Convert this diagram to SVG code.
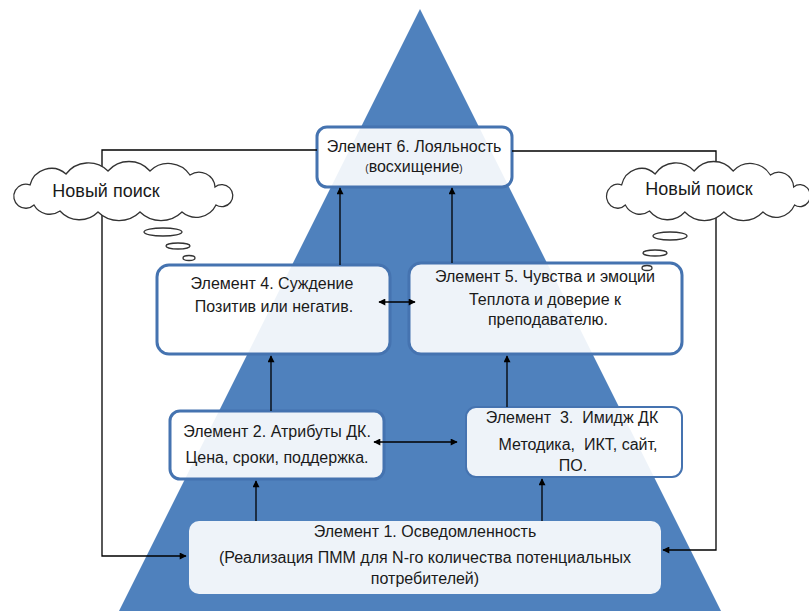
<svg xmlns="http://www.w3.org/2000/svg" xmlns:xlink="http://www.w3.org/1999/xlink" width="809" height="611" viewBox="0 0 809 611">
<style>
  .box{fill:#ffffff;fill-opacity:0.9;stroke:#4573b0;stroke-width:3}
  .t{font-family:"Liberation Sans",Arial,sans-serif;font-size:16px;fill:#1a1a1a;text-anchor:middle}
  .s{font-size:10px}
  .cl{font-family:"Liberation Sans",Arial,sans-serif;font-size:18px;fill:#1a1a1a;text-anchor:middle}
  .ln{fill:none;stroke:#000;stroke-width:1.3}
  .cloud{fill:#fff;stroke:#333;stroke-width:1.3}
  .bub{fill:#fff;stroke:#333;stroke-width:1.3}
</style>
<defs>
  <marker id="ah" viewBox="0 0 10 10" refX="9" refY="5" markerWidth="8" markerHeight="7" orient="auto-start-reverse" markerUnits="userSpaceOnUse">
    <path d="M0,0 L10,5 L0,10 z" fill="#000"/>
  </marker>
  <path id="cloudShape" d="M24,42 A12,12 0 1 1 20,22 A22,22 0 0 1 56,11 A28,28 0 0 1 98,8 A28,28 0 0 1 140,8 A26,26 0 0 1 180,12 A16,16 0 0 1 205,24 A11,11 0 1 1 206,42 A22,22 0 0 1 172,49 A30,30 0 0 1 130,49 A30,30 0 0 1 88,49 A26,26 0 0 1 50,48 A18,18 0 0 1 24,42 Z"/>
</defs>
<rect width="809" height="611" fill="#fff"/>
<polygon id="pyramid" points="420,9 117,615 723,615" fill="#4f81bd"/>

<g id="element6">
  <rect class="box" x="317" y="127" width="195" height="60" rx="10"/>
  <text class="t" x="414" y="152">Элемент 6. Лояльность</text>
  <text class="t" x="414" y="172"><tspan class="s">(</tspan>восхищение<tspan class="s">)</tspan></text>
</g>
<g id="element4">
  <rect class="box" x="157" y="265" width="233" height="89" rx="12"/>
  <text class="t" x="272" y="289">Элемент 4. Суждение</text>
  <text class="t" x="274" y="312">Позитив или негатив.</text>
</g>
<g id="element5">
  <rect class="box" x="409" y="263" width="273" height="91" rx="12"/>
  <text class="t" x="545" y="282">Элемент 5. Чувства и эмоции</text>
  <text class="t" x="545" y="305">Теплота и доверие к</text>
  <text class="t" x="548" y="325">преподавателю.</text>
</g>
<g id="element2">
  <rect class="box" x="170" y="411" width="214" height="68" rx="10"/>
  <text class="t" x="277" y="437">Элемент 2. Атрибуты ДК.</text>
  <text class="t" x="277" y="463">Цена, сроки, поддержка.</text>
</g>
<g id="element3">
  <rect class="box" x="466" y="407" width="216" height="70" rx="10" style="stroke-width:2"/>
  <text class="t" x="572" y="423" xml:space="preserve">Элемент  3.  Имидж ДК</text>
  <text class="t" x="578" y="450" xml:space="preserve">Методика,  ИКТ, сайт,</text>
  <text class="t" x="573" y="471">ПО.</text>
</g>
<g id="element1">
  <rect class="box" x="189" y="521" width="472" height="73" rx="10" style="stroke:none"/>
  <text class="t" x="425" y="537">Элемент 1. Осведомленность</text>
  <text class="t" x="425" y="563">(Реализация ПММ для N-го количества потенциальных</text>
  <text class="t" x="425" y="584">потребителей)</text>
</g>

<g id="connectors">
  <polyline class="ln" points="317,150 102,150 102,556 186,556" marker-end="url(#ah)"/>
  <polyline class="ln" points="512,151 716,151 716,550 663,550" marker-end="url(#ah)"/>
  <line class="ln" x1="340" y1="265" x2="340" y2="188" marker-end="url(#ah)"/>
  <line class="ln" x1="452" y1="263" x2="452" y2="188" marker-end="url(#ah)"/>
  <line class="ln" x1="379" y1="302" x2="415" y2="302" marker-start="url(#ah)" marker-end="url(#ah)"/>
  <line class="ln" x1="271" y1="411" x2="271" y2="356" marker-end="url(#ah)"/>
  <line class="ln" x1="507" y1="407" x2="507" y2="356" marker-end="url(#ah)"/>
  <line class="ln" x1="374" y1="442" x2="457" y2="442" marker-start="url(#ah)" marker-end="url(#ah)"/>
  <line class="ln" x1="256" y1="521" x2="256" y2="481" marker-end="url(#ah)"/>
  <line class="ln" x1="542" y1="521" x2="542" y2="479" marker-end="url(#ah)"/>
</g>

<g id="cloud-left">
  <use xlink:href="#cloudShape" class="cloud" transform="translate(10,163)"/>
  <text class="cl" x="106" y="197">Новый поиск</text>
  <ellipse class="bub" cx="163" cy="232" rx="19" ry="4"/>
  <ellipse class="bub" cx="178" cy="246" rx="12" ry="3"/>
  <ellipse class="bub" cx="189" cy="258" rx="6" ry="2.5"/>
</g>
<g id="cloud-right">
  <use xlink:href="#cloudShape" class="cloud" transform="translate(603,163) scale(0.93,1)"/>
  <text class="cl" x="699" y="195">Новый поиск</text>
  <ellipse class="bub" cx="670" cy="236" rx="17" ry="4"/>
  <ellipse class="bub" cx="655" cy="253" rx="12" ry="3"/>
  <ellipse class="bub" cx="647" cy="268" rx="5" ry="2.5"/>
</g>
</svg>
